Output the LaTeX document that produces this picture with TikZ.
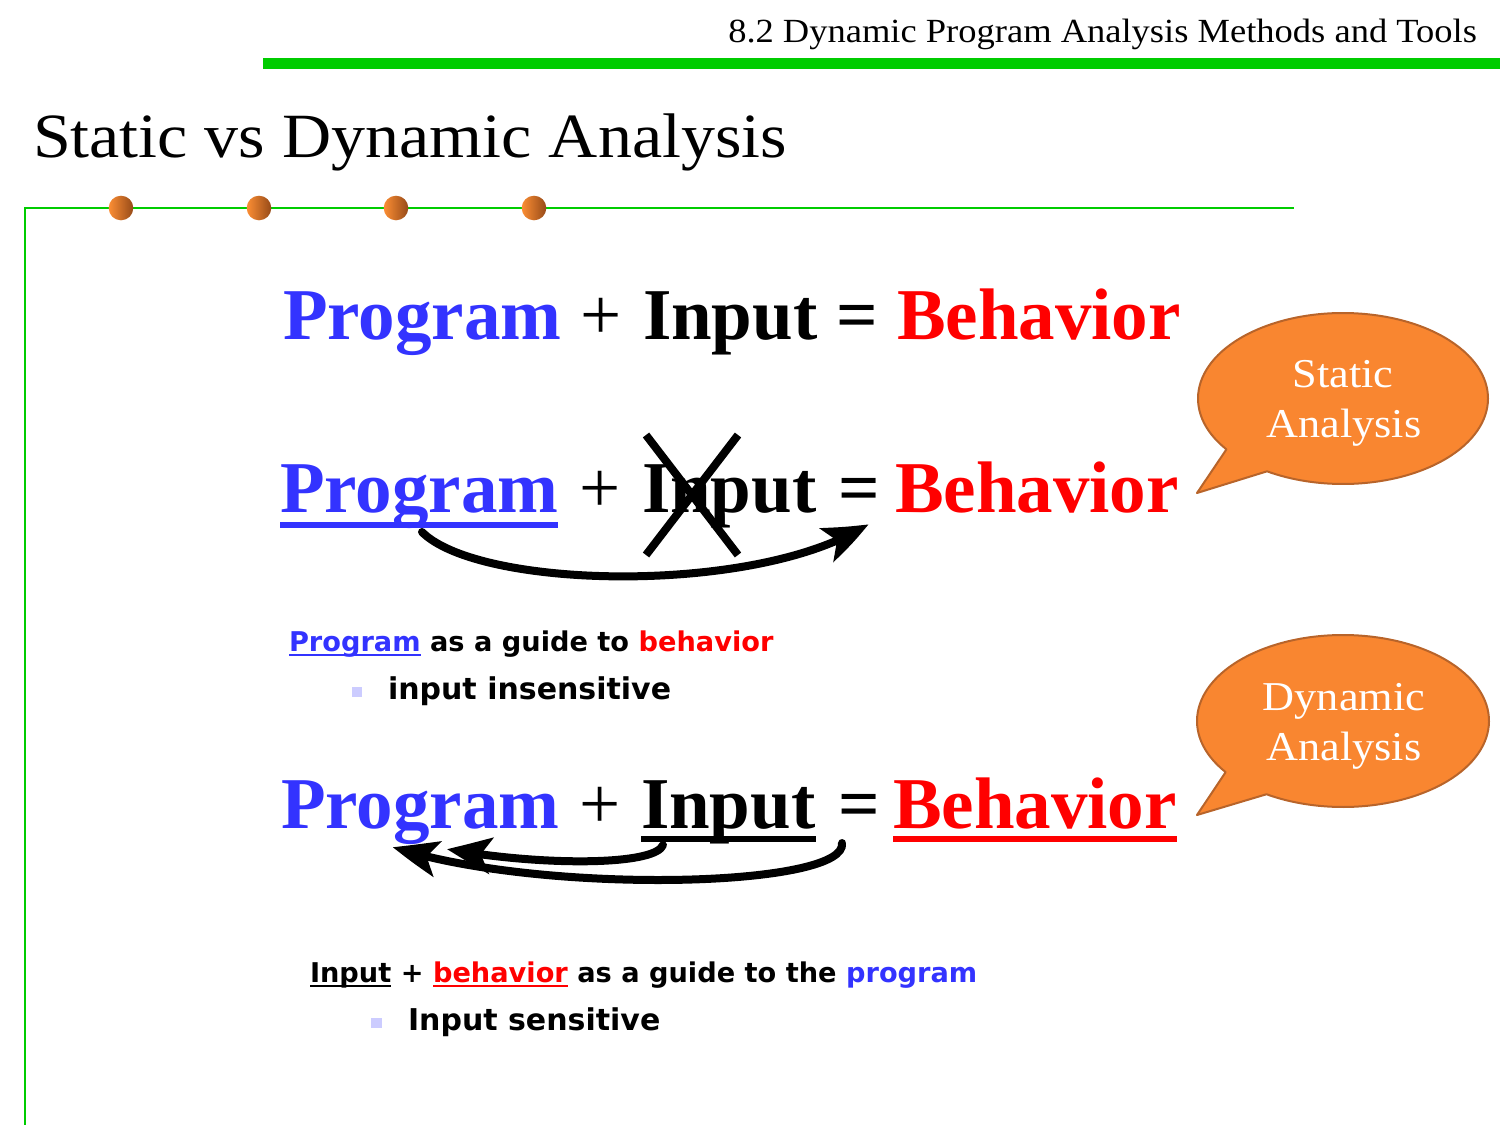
\documentclass[tikz,border=0pt]{standalone}
\usepackage{fontspec}
\newfontfamily\eqfont{Liberation Serif}
\newfontfamily\palfont{Liberation Serif}[FakeStretch=1.08]
\newfontfamily\guidefont{DejaVu Sans}
\usetikzlibrary{arrows.meta,bending}
\definecolor{slidegreen}{RGB}{0,204,0}
\definecolor{progblue}{RGB}{51,51,255}
\definecolor{behred}{RGB}{255,0,0}
\definecolor{bubblefill}{RGB}{249,134,48}
\definecolor{bubbleedge}{RGB}{184,100,42}
\definecolor{dotlight}{RGB}{252,142,52}
\definecolor{dotdark}{RGB}{150,74,24}
\definecolor{bulletlav}{RGB}{204,204,255}
\begin{document}
\begin{tikzpicture}[x=0.5pt,y=-0.5pt,
  txt/.style={inner sep=0pt, outer sep=0pt},
  eqword/.style={txt, anchor=base west, font=\eqfont\bfseries\fontsize{36.5}{40}\selectfont},
  eqsym/.style={txt, anchor=base, font=\eqfont\bfseries\fontsize{36.5}{40}\selectfont},
  guide/.style={txt, anchor=base west, font=\guidefont\bfseries\fontsize{13.6}{16}\selectfont},
  subguide/.style={txt, anchor=base west, font=\guidefont\bfseries\fontsize{15}{18}\selectfont},
  bubbletext/.style={txt, anchor=base, text=white, font=\palfont\fontsize{20.5}{24}\selectfont},
  bubble/.style={fill=bubblefill, draw=bubbleedge, line width=1pt, line join=round},
  heavyline/.style={line width=3pt},
  bigarrow/.style={line width=4pt, line cap=round, -{Stealth[length=22pt,width=18pt,inset=5pt,bend]}},
  dot/.style={left color=dotlight, right color=dotdark},
  bullet/.style={fill=bulletlav}
]
\useasboundingbox (0,0) rectangle (1500,1125);

% header, rules and title
\node[txt, anchor=base east, font=\palfont\fontsize{16.9}{20}\selectfont] (header) at (1477,42) {8.2 Dynamic Program Analysis Methods and Tools};
\fill[slidegreen] (263,58) rectangle (1500,69);
\node[txt, anchor=base west, font=\palfont\fontsize{31.5}{38}\selectfont] (title) at (33,157) {Static vs Dynamic Analysis};
\draw[slidegreen, line width=1pt] (24,208) -- (1294,208);
\draw[slidegreen, line width=1pt] (25,208) -- (25,1125);
\foreach \x in {121,259,396,534} \shade[dot] (\x,208) circle[radius=12.3];

% first equation
\node[eqword, text=progblue] (p1) at (283,339) {Program};
\node[eqsym, font=\eqfont\fontsize{36.5}{40}\selectfont] (plus1) at (601,339) {+};
\node[eqword] (i1) at (643,339) {Input};
\node[eqsym] (eq1) at (857,339) {=};
\node[eqword, text=behred] (b1) at (897,339) {Behavior};

% second equation: static analysis
\node[eqword, text=progblue] (p2) at (280,512) {Program};
\node[eqsym, font=\eqfont\fontsize{36.5}{40}\selectfont] (plus2) at (600,512) {+};
\node[eqword] (i2) at (642,512) {Input};
\node[eqsym] (eq2) at (859,512) {=};
\node[eqword, text=behred] (b2) at (895,512) {Behavior};
\draw[heavyline, progblue] ([yshift=-6.25pt]p2.base west) -- ([yshift=-6.25pt]p2.base east);
\draw[line width=4pt] (646,435) -- (738,555);
\draw[line width=4pt] (738,435) -- (646,555);
\coordinate (s2from) at (422,532);
\coordinate (s2to) at (868,524);
\draw[bigarrow] (s2from) .. controls (480,590) and (760,595) .. (s2to);

% static analysis callout
\path[bubble] (1343,398.5) ++(143.5:145 and 85.5)
  arc[start angle=143.5, end angle=481.6, x radius=145, y radius=85.5]
  -- (1197,493) -- cycle;
\node[bubbletext] (st1) at (1343,387) {Static};
\node[bubbletext] (st2) at (1344,437) {Analysis};

% guide texts for static analysis
\node[guide, text=progblue] (g1a) at (289,651) {Program};
\node[guide] (g1b) at (g1a.base east) {\ as a guide to\ \mbox{}};
\node[guide, text=behred] (g1c) at (g1b.base east) {behavior};
\draw[progblue, line width=1pt] ([yshift=-2pt]g1a.base west) -- ([yshift=-2pt]g1a.base east);
\fill[bullet] (352,687) rectangle (362,697);
\node[subguide] (g1d) at (388,699) {input insensitive};

% third equation: dynamic analysis
\node[eqword, text=progblue] (p3) at (281,828) {Program};
\node[eqsym, font=\eqfont\fontsize{36.5}{40}\selectfont] (plus3) at (600,828) {+};
\node[eqword] (i3) at (641,828) {Input};
\node[eqsym] (eq3) at (859,828) {=};
\node[eqword, text=behred] (b3) at (893,828) {Behavior};
\draw[heavyline] ([yshift=-5.5pt]i3.base west) -- ([yshift=-5.5pt]i3.base east);
\draw[heavyline, behred] ([yshift=-5.5pt]b3.base west) -- ([yshift=-5.5pt]b3.base east);
\coordinate (d3short) at (663,845);
\coordinate (d3shortto) at (447,849);
\coordinate (d3long) at (842,843);
\coordinate (d3longto) at (393,847);
\draw[bigarrow] (d3short) .. controls (655,866) and (540,866) .. (d3shortto);
\draw[bigarrow] (d3long) .. controls (848,888) and (540,895) .. (d3longto);

% dynamic analysis callout
\path[bubble] (1343,721) ++(143.5:146 and 86)
  arc[start angle=143.5, end angle=481.6, x radius=146, y radius=86]
  -- (1197,815) -- cycle;
\node[bubbletext] (dy1) at (1344,710) {Dynamic};
\node[bubbletext] (dy2) at (1344,760) {Analysis};

% guide texts for dynamic analysis
\node[guide] (g2a) at (310,982) {Input};
\node[guide] (g2b) at (g2a.base east) {\ +\ \mbox{}};
\node[guide, text=behred] (g2c) at (g2b.base east) {behavior};
\node[guide] (g2d) at (g2c.base east) {\ as a guide to the\ \mbox{}};
\node[guide, text=progblue] (g2e) at (g2d.base east) {program};
\draw[line width=1pt] ([yshift=-2pt]g2a.base west) -- ([yshift=-2pt]g2a.base east);
\draw[behred, line width=1pt] ([yshift=-2pt]g2c.base west) -- ([yshift=-2pt]g2c.base east);
\fill[bullet] (371,1018) rectangle (382,1028);
\node[subguide] (g2f) at (408,1030) {Input sensitive};
\end{tikzpicture}
\end{document}
